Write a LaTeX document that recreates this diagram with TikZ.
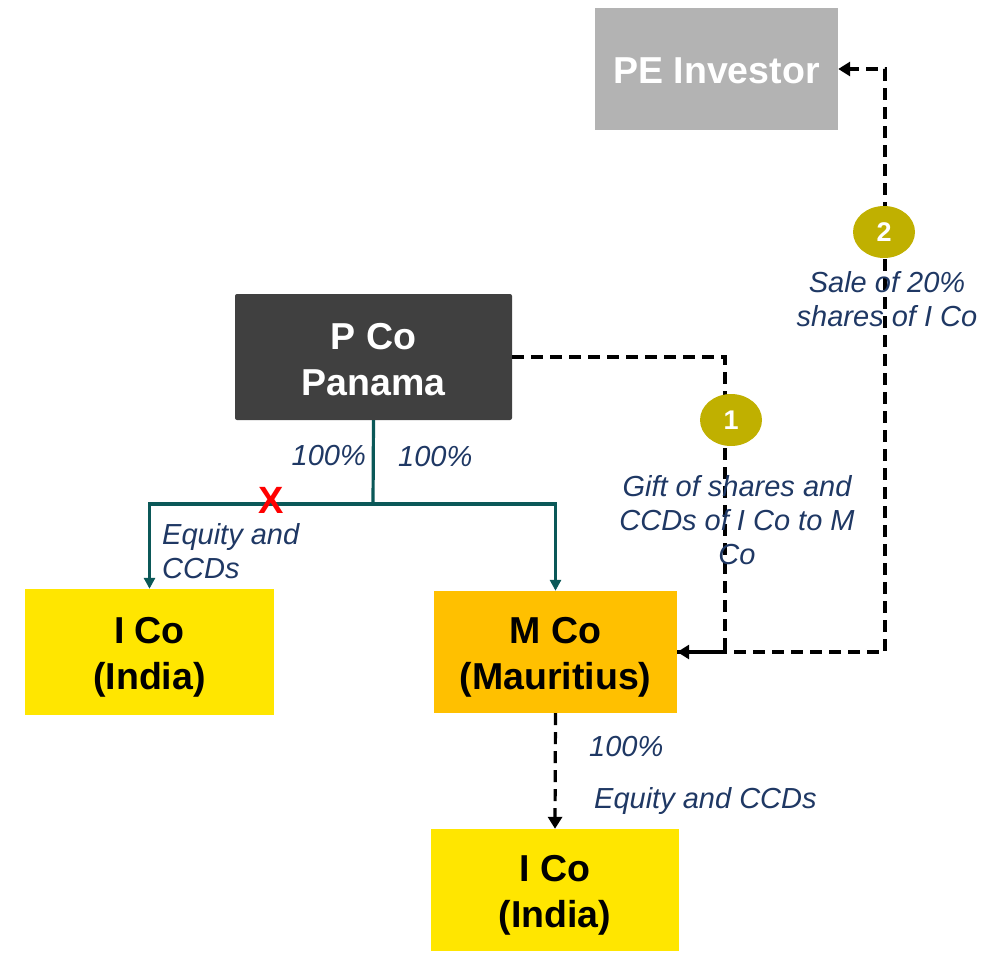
\documentclass[tikz,border=0pt]{standalone}
\usepackage{fontspec}
\setmainfont{Liberation Sans}
\usetikzlibrary{arrows.meta,shapes.geometric}
\definecolor{boxdark}{HTML}{404040}
\definecolor{boxgray}{HTML}{B3B3B3}
\definecolor{boxyellow}{HTML}{FFE600}
\definecolor{boxorange}{HTML}{FFC000}
\definecolor{tealline}{HTML}{0B5858}
\definecolor{labelblue}{HTML}{1F3864}
\definecolor{stepolive}{HTML}{C0B000}
\tikzset{
  entity/.style={inner sep=0pt},
  entitytext/.style={inner sep=0pt, align=center, yshift=-5pt,
    font=\bfseries\fontsize{37.5}{46}\selectfont},
  note/.style={inner sep=0pt, text=labelblue,
    font=\itshape\fontsize{29}{34}\selectfont},
  own/.style={draw=tealline, line width=3.2pt},
  flow/.style={draw=black, line width=3.2pt, dash pattern=on 12pt off 7pt},
  owntip/.style={-{Triangle[length=11pt,width=11pt]}},
  flowtip/.style={-{Triangle[length=12pt,width=14pt]}},
  stepmark/.style={ellipse, fill=stepolive, minimum width=62pt,
    minimum height=52pt, inner sep=0pt, text=white,
    font=\bfseries\fontsize{27}{30}\selectfont}
}
\begin{document}
\begin{tikzpicture}[x=1pt,y=-1pt]
\useasboundingbox (0,0) rectangle (1003,953);

% entities
\node[entity, fill=boxgray, minimum width=243pt, minimum height=122pt,
  label={[entitytext, text=white, yshift=3pt]center:PE Investor}]
  (pe) at (716.5,69) {};
\node[entity, fill=boxdark, rounded corners=2pt, minimum width=277pt, minimum height=126pt,
  label={[entitytext, text=white, yshift=2pt]center:{P Co\\Panama}}]
  (pco) at (373.5,357) {};
\node[entity, fill=boxyellow, minimum width=249pt, minimum height=126pt,
  label={[entitytext]center:{I Co\\(India)}}]
  (icol) at (149.5,652) {};
\node[entity, fill=boxorange, minimum width=243pt, minimum height=122pt,
  label={[entitytext]center:{M Co\\(Mauritius)}}]
  (mco) at (555.5,652) {};
\node[entity, fill=boxyellow, minimum width=248pt, minimum height=122pt,
  label={[entitytext]center:{I Co\\(India)}}]
  (icob) at (555,890) {};

% ownership lines from P Co
\coordinate (split) at (373,504);
\draw[own] (pco.south) -- (split);
\draw[own, owntip] (split) -| (icol);
\draw[own, owntip] (split) -| (mco);
\node[inner sep=0pt, text=red, font=\bfseries\fontsize{38}{40}\selectfont]
  (cross) at (271,500) {X};

% step 1: gift of shares to M Co
\coordinate (giftcorner) at (725,357);
\draw[flow, flowtip] (pco.east) -- (giftcorner) |- (mco.east);

% step 2: sale to the PE investor
\coordinate (salecorner) at (885,652);
\draw[flow, flowtip] (mco.east) -- (salecorner) |- (pe.east);

% M Co holding in I Co
\draw[flow, flowtip] (mco.south) -- (icob.north);

% step markers
\node[stepmark] (s1) at (731,420) {1};
\node[stepmark] (s2) at (884,232) {2};

% labels
\node[note, anchor=east] (pl) at (366,456) {100\%};
\node[note, anchor=west] (pr) at (398,457) {100\%};
\node[note, anchor=north west, align=left] (eqleft) at (162,523) {Equity and\\CCDs};
\node[note, align=center] (gift) at (737,520) {Gift of shares and\\CCDs of I Co to M\\Co};
\node[note, align=center] (sale) at (887,299) {Sale of 20\%\\shares of I Co};
\node[note, anchor=west] (pb) at (589,747) {100\%};
\node[note, anchor=west] (eqbottom) at (594,801) {Equity and CCDs};
\end{tikzpicture}
\end{document}
